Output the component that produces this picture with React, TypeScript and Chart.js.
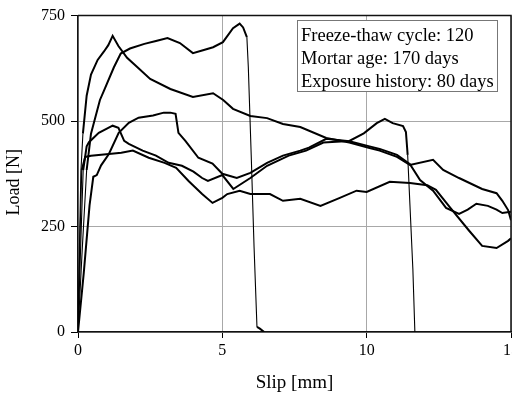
import React, { useEffect, useRef } from "react";
import { Chart, registerables } from "chart.js";

Chart.register(...registerables);

const FONT = "'Liberation Serif', 'Times New Roman', serif";

// Axis ticks
const slipTicks = [0, 5, 10, 15];
const loadTicks = [0, 250, 500, 750];

// Annotation
const noteLines = ["Freeze-thaw cycle: 120", "Mortar age: 170 days", "Exposure history: 80 days"];
const xTitle = "Slip [mm]";
const yTitle = "Load [N]";

// Specimen 1 (peak ~700 N early)
const slipA = [0, 0.05, 0.1, 0.17, 0.3, 0.45, 0.68, 0.9, 1.05, 1.2, 1.4, 1.7, 2.05, 2.5, 3.2, 3.98, 4.68, 5.03, 5.37, 5.97, 6.55, 7.1, 7.7, 8.6, 9.4, 10.1, 10.45, 11.05, 11.5, 12.3, 12.65, 13.2, 14.0, 14.5, 14.7, 14.9, 15.0];
const loadA = [0, 200, 380, 470, 560, 610, 645, 665, 680, 702, 678, 650, 628, 600, 576, 557, 566, 550, 529, 512, 507, 493, 486, 460, 449, 436, 430, 415, 396, 408, 384, 365, 339, 329, 311, 289, 265];

// Specimen 2 (peak ~730 N, sudden failure ~6 mm)
const slipB = [0, 0.15, 0.3, 0.45, 0.76, 0.9, 1.24, 1.48, 1.8, 2.3, 2.7, 3.1, 3.53, 3.98, 4.33, 4.68, 5.02, 5.37, 5.6, 5.72, 5.85, 5.9, 6.0, 6.1, 6.2, 6.3, 6.45];
const loadB = [0, 200, 384, 470, 550, 572, 627, 660, 672, 683, 690, 697, 685, 661, 668, 675, 687, 720, 731, 722, 699, 628, 420, 200, 12, 8, 0];

// Specimen 3 (peak ~520 N at ~3 mm)
const slipC = [0, 0.2, 0.4, 0.53, 0.65, 0.8, 1.07, 1.41, 1.76, 2.1, 2.6, 2.97, 3.2, 3.38, 3.48, 3.72, 4.17, 4.66, 5.0, 5.5, 5.97, 6.55, 7.1, 7.7, 8.0, 8.6, 9.4, 10.1, 10.45, 11.05, 11.5, 11.85, 12.3, 12.75, 13.2, 13.5, 13.8, 14.2, 14.5, 14.7, 15.0];
const loadC = [0, 140, 300, 368, 372, 395, 422, 472, 496, 508, 513, 520, 520, 517, 472, 453, 413, 399, 375, 365, 377, 401, 418, 430, 437, 458, 452, 440, 434, 420, 398, 360, 335, 294, 280, 290, 304, 299, 290, 282, 285];

// Specimen 4 (second peak ~500 N at ~10.6 mm, failure ~11.7 mm)
const slipD = [0, 0.1, 0.18, 0.3, 0.38, 0.72, 1.0, 1.2, 1.4, 1.6, 1.76, 2.24, 2.7, 3.14, 3.6, 4.0, 4.3, 4.5, 5.0, 5.38, 5.97, 6.55, 7.3, 7.9, 8.5, 9.4, 9.9, 10.35, 10.63, 10.9, 11.26, 11.36, 11.42, 11.5, 11.6, 11.67];
const loadD = [0, 220, 384, 440, 450, 472, 482, 489, 484, 453, 446, 430, 418, 401, 394, 380, 365, 358, 372, 339, 365, 394, 418, 430, 449, 453, 471, 495, 505, 495, 488, 474, 420, 300, 150, 0];

// Specimen 5 (plateau ~420 N, lowest residual)
const slipE = [0, 0.06, 0.13, 0.25, 0.45, 1.07, 1.5, 1.9, 2.45, 3.0, 3.4, 3.83, 4.3, 4.66, 5.0, 5.17, 5.6, 5.97, 6.65, 7.1, 7.7, 8.4, 9.07, 9.65, 10.0, 10.8, 11.5, 12.1, 12.4, 12.9, 13.55, 14.0, 14.5, 14.9, 15.0];
const loadE = [0, 200, 384, 415, 418, 422, 425, 430, 413, 401, 389, 358, 327, 306, 318, 327, 335, 327, 327, 311, 316, 299, 318, 335, 332, 356, 353, 348, 337, 294, 240, 204, 199, 216, 222];

const seriesList = [
  { slip: slipA, load: loadA },
  { slip: slipB, load: loadB },
  { slip: slipC, load: loadC },
  { slip: slipD, load: loadD },
  { slip: slipE, load: loadE },
];

const toPoints = (xs: number[], ys: number[]) => xs.map((x, i) => ({ x, y: ys[i] }));

const decorPlugin = {
  id: "decor",
  afterDraw(chart: any) {
    const { ctx, chartArea: a } = chart;
    ctx.save();
    // top & right frame
    ctx.strokeStyle = "#111";
    ctx.lineWidth = 1.5;
    ctx.beginPath();
    ctx.moveTo(a.left, a.top);
    ctx.lineTo(a.right, a.top);
    ctx.lineTo(a.right, a.bottom);
    ctx.stroke();

    // annotation box
    const bx = Math.round(a.right - 214) + 0.5;
    const by = Math.round(a.top + 4) + 0.5;
    const bw = 200;
    const bh = 71;
    ctx.fillStyle = "#fff";
    ctx.fillRect(bx, by, bw, bh);
    ctx.strokeStyle = "#777";
    ctx.lineWidth = 1;
    ctx.strokeRect(bx, by, bw, bh);
    ctx.fillStyle = "#000";
    ctx.font = `18.5px ${FONT}`;
    ctx.textAlign = "left";
    ctx.textBaseline = "alphabetic";
    noteLines.forEach((t, i) => {
      ctx.fillText(t, bx + 3.5, by + 20 + i * 23.3);
    });

    // y title
    ctx.translate(14.5, (a.top + a.bottom) / 2 + 8.5);
    ctx.rotate(-Math.PI / 2);
    ctx.textAlign = "center";
    ctx.textBaseline = "middle";
    ctx.font = `18px ${FONT}`;
    ctx.fillText(yTitle, 0, 0);
    ctx.restore();
  },
};

export default function App() {
  const ref = useRef<HTMLCanvasElement>(null);

  useEffect(() => {
    const canvas = ref.current;
    if (!canvas) return;
    const chart = new Chart(canvas, {
      type: "line",
      data: {
        datasets: seriesList.map((s) => ({
          data: toPoints(s.slip, s.load),
          borderColor: "#000",
          borderWidth: 2,
          pointRadius: 0,
          tension: 0,
          fill: false,
          segment: {
            borderWidth: (c: any) => {
              const dx = Math.abs(c.p1.parsed.x - c.p0.parsed.x);
              const dy = Math.abs(c.p1.parsed.y - c.p0.parsed.y);
              return dy > 900 * dx ? 1.1 : 2;
            },
          },
        })),
      },
      options: {
        responsive: false,
        animation: false,
        devicePixelRatio: 1,
        parsing: true,
        layout: { padding: { top: 15, right: 19, left: 0, bottom: 0 } },
        plugins: {
          legend: { display: false },
          tooltip: { enabled: false },
        },
        scales: {
          x: {
            type: "linear",
            min: 0,
            max: 15,
            afterBuildTicks: (s: any) => {
              s.ticks = slipTicks.map((v) => ({ value: v }));
            },
            afterFit: (s: any) => {
              s.height = 62;
            },
            ticks: {
              color: "#000",
              font: { family: FONT, size: 16 },
              padding: 3,
              maxRotation: 0,
            },
            grid: {
              color: "#a8a8a8",
              lineWidth: 1,
              tickColor: "#000",
              tickLength: 6,
            },
            border: { display: true, color: "#111", width: 1.5 },
            title: {
              display: true,
              text: xTitle,
              color: "#000",
              font: { family: FONT, size: 19 },
              padding: { top: 0, bottom: 0 },
            },
          },
          y: {
            type: "linear",
            min: 0,
            max: 750,
            afterBuildTicks: (s: any) => {
              s.ticks = loadTicks.map((v) => ({ value: v }));
            },
            afterFit: (s: any) => {
              s.width = 78;
            },
            ticks: {
              color: "#000",
              font: { family: FONT, size: 16 },
              padding: 6,
            },
            grid: {
              color: "#a8a8a8",
              lineWidth: 1,
              tickColor: "#000",
              tickLength: 7,
            },
            border: { display: true, color: "#111", width: 1.5 },
          },
        },
      } as any,
      plugins: [decorPlugin],
    });
    return () => chart.destroy();
  }, []);

  return (
    <div
      style={{
        position: "fixed",
        left: 0,
        top: 0,
        width: 512,
        height: 394,
        overflow: "hidden",
        background: "#fff",
      }}
    >
      <canvas ref={ref} width={530} height={394} style={{ display: "block", width: 530, height: 394 }} />
    </div>
  );
}
